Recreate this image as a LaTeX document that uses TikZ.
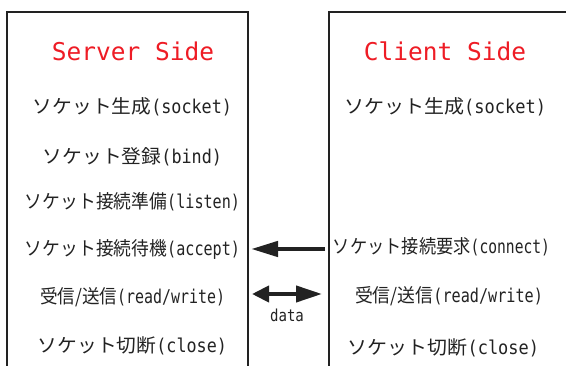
\documentclass[tikz,border=0pt]{standalone}
\usepackage{fontspec}
\usepackage{graphicx}
\usetikzlibrary{arrows.meta}
\newfontfamily\jpfont{Noto Sans CJK JP}
\newfontfamily\latfont{DejaVu Sans Mono}[FakeStretch=0.85]
\newfontfamily\ttlfont{DejaVu Sans Mono}
\definecolor{ink}{HTML}{222222}
\definecolor{titlered}{HTML}{EE1C25}
\newcommand{\mylab}[3]{\resizebox{#1pt}{\height}{\fontsize{19}{22}\selectfont{\jpfont #2}{\latfont #3}}}
\tikzset{
  boxline/.style={draw=ink, line width=2.6pt},
  txt/.style={inner sep=0pt, text=ink, anchor=center},
  ttl/.style={inner sep=0pt, text=titlered, anchor=base, font=\ttlfont\fontsize{24.5}{28}\selectfont},
  thickarrow/.style={draw=ink, line width=4.5pt},
}
\begin{document}
\begin{tikzpicture}[x=1pt,y=-1pt]
\useasboundingbox (0,0) rectangle (566,366);
% boxes
\draw[boxline] (7,366) -- (7,12) -- (248,12) -- (248,366);
\draw[boxline] (329,366) -- (329,12) -- (566,12);
% titles
\node[ttl] (stitle) at (133,61) {Server Side};
\node[ttl] (ctitle) at (445,61) {Client Side};
% server side
\node[txt] (ssocket) at (132.5,107) {\mylab{199}{ソケット生成}{(socket)}};
\node[txt] (sbind)   at (132.5,157) {\mylab{179}{ソケット登録}{(bind)}};
\node[txt] (slisten) at (132.5,202) {\mylab{215}{ソケット接続準備}{(listen)}};
\node[txt] (saccept) at (132.5,249) {\mylab{215}{ソケット接続待機}{(accept)}};
\node[txt] (srw)     at (132.5,297) {\mylab{185}{受信/送信}{(read/write)}};
\node[txt] (sclose)  at (132.5,346) {\mylab{189}{ソケット切断}{(close)}};
% client side
\node[txt] (csocket)  at (445,107)   {\mylab{202}{ソケット生成}{(socket)}};
\node[txt] (cconnect) at (441.5,247) {\mylab{217}{ソケット接続要求}{(connect)}};
\node[txt] (crw)      at (449,296)   {\mylab{188}{受信/送信}{(read/write)}};
\node[txt] (cclose)   at (443.5,348) {\mylab{191}{ソケット切断}{(close)}};
% arrows
\coordinate (a1s) at (325,249);
\coordinate (a1e) at (251,249);
\draw[thickarrow, -{Triangle[length=27pt,width=15pt]}] (a1s) -- (a1e);
\coordinate (a2l) at (252,294);
\coordinate (a2r) at (322,294);
\draw[draw=ink, line width=4pt, {Triangle[length=17pt,width=16pt]}-{Triangle[length=26pt,width=16pt]}] (a2l) -- (a2r);
\node[inner sep=0pt, text=ink, anchor=center, font=\latfont\fontsize{16.5}{19}\selectfont] (data) at (287,315) {data};
\end{tikzpicture}
\end{document}
